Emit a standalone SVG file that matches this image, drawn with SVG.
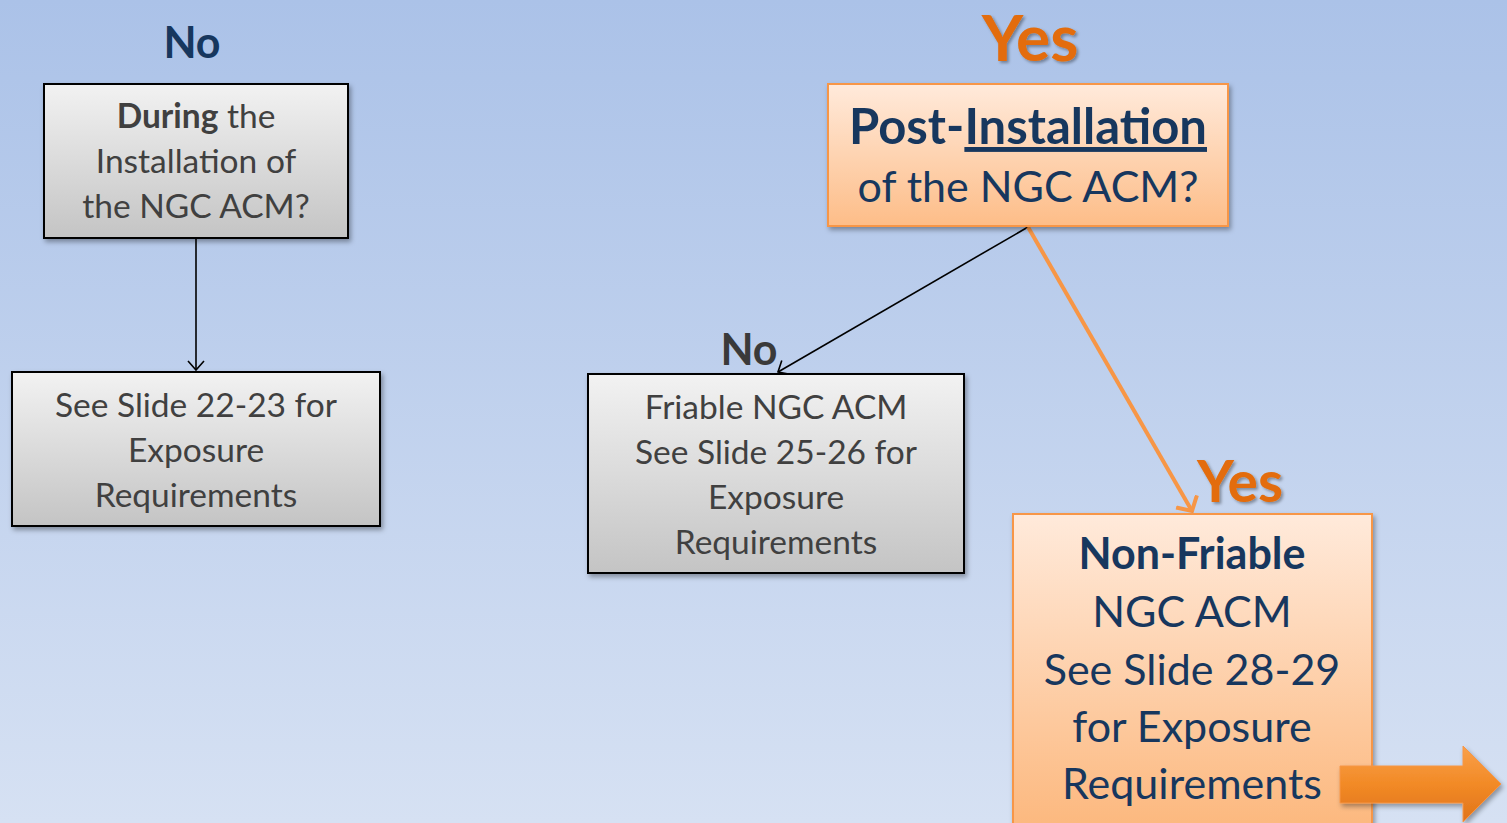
<svg xmlns="http://www.w3.org/2000/svg" width="1507" height="823" viewBox="0 0 1507 823">
<defs>
<linearGradient id="bg" x1="0" y1="0" x2="0" y2="1"><stop offset="0" stop-color="#abc2e8"/><stop offset="1" stop-color="#d6e1f3"/></linearGradient>
<linearGradient id="gray" x1="0" y1="0" x2="0" y2="1"><stop offset="0" stop-color="#f2f2f2"/><stop offset="1" stop-color="#c4c4c4"/></linearGradient>
<linearGradient id="orange" x1="0" y1="0" x2="0" y2="1"><stop offset="0" stop-color="#ffeadb"/><stop offset="1" stop-color="#fdbd88"/></linearGradient>
<linearGradient id="orange2" x1="0" y1="0" x2="0" y2="1"><stop offset="0" stop-color="#ffeadb"/><stop offset="1" stop-color="#fcb77c"/></linearGradient>
<linearGradient id="barrow" x1="0" y1="0" x2="0" y2="1"><stop offset="0" stop-color="#f9a04a"/><stop offset="0.5" stop-color="#f28a26"/><stop offset="1" stop-color="#e0731a"/></linearGradient>
<filter id="sh" x="-10%" y="-10%" width="120%" height="130%"><feDropShadow dx="2" dy="3" stdDeviation="2.5" flood-color="#000" flood-opacity="0.35"/></filter>
<filter id="tsh" x="-10%" y="-10%" width="130%" height="130%"><feDropShadow dx="2" dy="2" stdDeviation="1.5" flood-color="#000" flood-opacity="0.35"/></filter>
<marker id="ab" markerWidth="20" markerHeight="20" refX="10" refY="10" orient="auto" markerUnits="userSpaceOnUse"><path d="M1,2 L10,10 L1,18" fill="none" stroke="#000" stroke-width="1.6"/></marker>
<marker id="ao" markerWidth="24" markerHeight="28" refX="12" refY="14" orient="auto" markerUnits="userSpaceOnUse"><path d="M1,2 L12,14 L1,26" fill="none" stroke="#f79646" stroke-width="4"/></marker>
<style>
text{font-family:Lato,"Liberation Sans",sans-serif;text-anchor:middle}
.g{fill:#404040;font-size:33.5px}
.n{fill:#17375e}
.o{fill:#17375e;font-size:43px}
.yes{fill:#e36c09;font-weight:bold}
</style>
</defs>
<rect width="1507" height="823" fill="url(#bg)"/>

<g id="label-no-left"><text class="n" x="192" y="58" font-size="43" font-weight="bold">No</text></g>
<g id="label-yes-top"><text class="yes" x="1030" y="61" font-size="64" filter="url(#tsh)">Yes</text></g>

<g id="connectors">
<line x1="196" y1="239" x2="196" y2="370" stroke="#000" stroke-width="1.6" marker-end="url(#ab)"/>
<line x1="1028" y1="227" x2="778" y2="372" stroke="#000" stroke-width="1.6" marker-end="url(#ab)"/>
<line x1="1028" y1="227" x2="1192" y2="511" stroke="#f79646" stroke-width="4" marker-end="url(#ao)"/>
</g>

<g id="node-during">
<rect x="44" y="84" width="304" height="154" fill="url(#gray)" stroke="#000" stroke-width="2" filter="url(#sh)"/>
<text class="g" x="196" y="128"><tspan font-weight="bold">During</tspan> the</text>
<text class="g" x="196" y="173">Installation of</text>
<text class="g" x="196" y="218">the NGC ACM?</text>
</g>

<g id="node-slide22">
<rect x="12" y="372" width="368" height="154" fill="url(#gray)" stroke="#000" stroke-width="2" filter="url(#sh)"/>
<text class="g" x="196" y="417">See Slide 22-23 for</text>
<text class="g" x="196" y="462">Exposure</text>
<text class="g" x="196" y="507">Requirements</text>
</g>

<g id="node-post">
<rect x="828" y="84" width="400" height="142" fill="url(#orange)" stroke="#f79646" stroke-width="2" filter="url(#sh)"/>
<text class="n" x="1028" y="144" font-size="49" font-weight="bold">Post-<tspan text-decoration="underline">Installation</tspan></text>
<text class="n" x="1028" y="202" font-size="43">of the NGC ACM?</text>
</g>

<g id="label-no-mid"><text x="749" y="365" font-size="43" font-weight="bold" fill="#3a3a3a">No</text></g>

<g id="node-friable">
<rect x="588" y="374" width="376" height="199" fill="url(#gray)" stroke="#000" stroke-width="2" filter="url(#sh)"/>
<text class="g" x="776" y="419">Friable NGC ACM</text>
<text class="g" x="776" y="464">See Slide 25-26 for</text>
<text class="g" x="776" y="509">Exposure</text>
<text class="g" x="776" y="554">Requirements</text>
</g>

<g id="label-yes-mid"><text class="yes" x="1240" y="502" font-size="57" filter="url(#tsh)">Yes</text></g>

<g id="node-nonfriable">
<rect x="1013" y="514" width="359" height="320" fill="url(#orange2)" stroke="#f79646" stroke-width="2" filter="url(#sh)"/>
<text class="o" x="1192" y="569" font-weight="bold">Non-Friable</text>
<text class="o" x="1192" y="627">NGC ACM</text>
<text class="o" x="1192" y="685">See Slide 28-29</text>
<text class="o" x="1192" y="742">for Exposure</text>
<text class="o" x="1192" y="799">Requirements</text>
</g>

<g id="block-arrow">
<path d="M1340,766 L1463,766 L1463,746 L1501,784 L1463,822 L1463,803 L1340,803 Z" fill="url(#barrow)" stroke="#f79646" stroke-width="1" filter="url(#sh)"/>
</g>
</svg>
